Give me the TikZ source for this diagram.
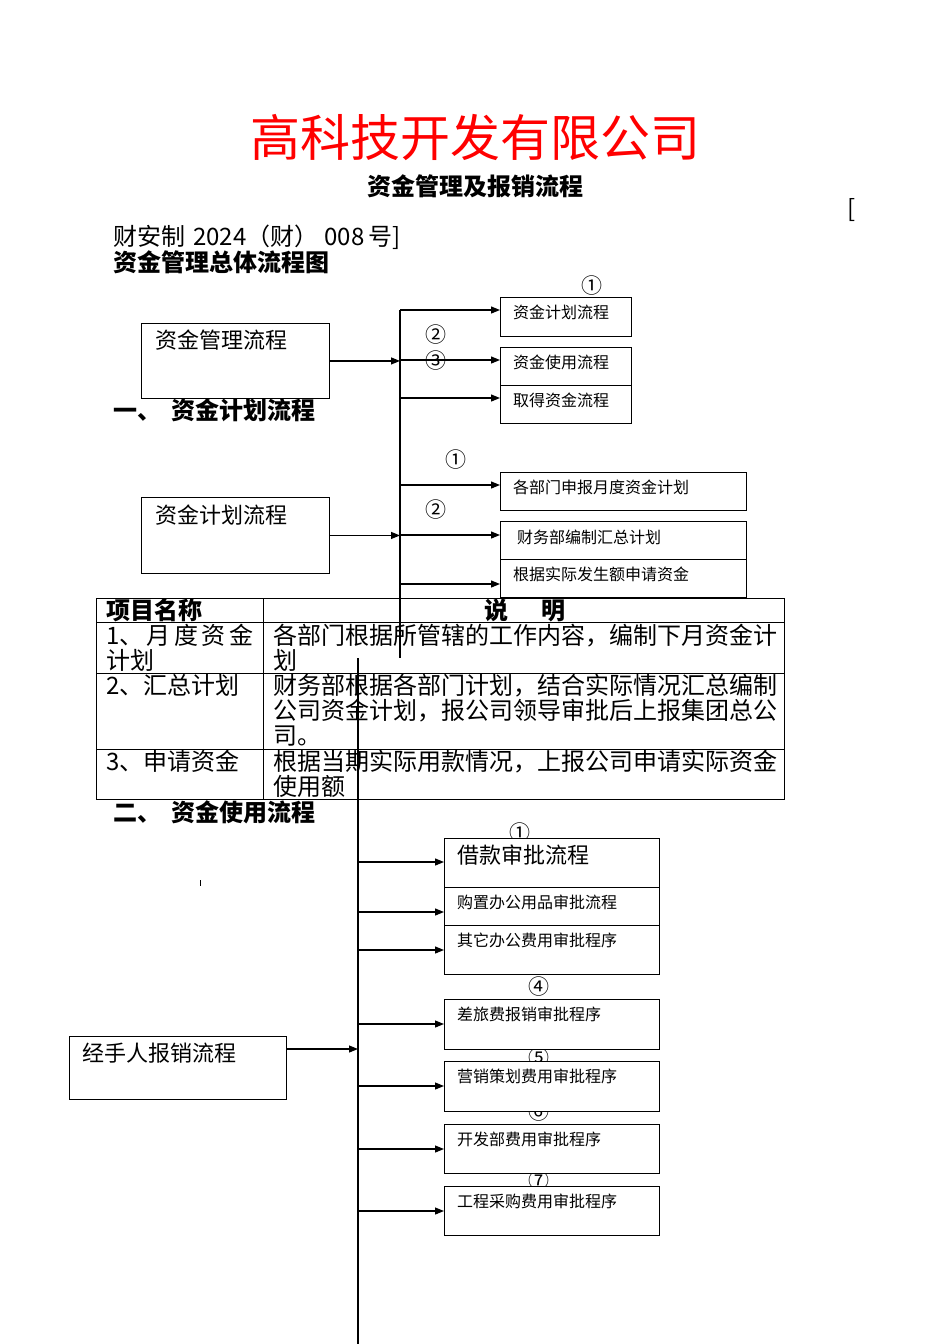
\documentclass[tikz,border=0pt]{standalone}
\usepackage{fontspec}
\setmainfont{Noto Sans CJK SC}
\usetikzlibrary{arrows.meta}

\begin{document}
\begin{tikzpicture}[x=1pt, y=-1pt, >={Triangle[length=9pt,width=7pt]},
    box/.style={draw, fill=white, line width=0.9pt, inner sep=0pt, anchor=north west},
    txt/.style={inner sep=0pt, anchor=west, font=\fontsize{16}{19}\selectfont},
    bigtxt/.style={inner sep=0pt, anchor=west, font=\fontsize{22}{26}\selectfont},
    num/.style={inner sep=0pt, font=\fontsize{21}{24}\selectfont},
    doc/.style={inner sep=0pt, anchor=west, font=\fontsize{24}{28}\selectfont},
    head/.style={inner sep=0pt, anchor=west, font=\fontsize{24}{28}\selectfont\bfseries},
    cell/.style={inner sep=0pt, anchor=north west, align=left, font=\fontsize{24}{25}\selectfont},
    arr/.style={->, line width=1.2pt},
    bus/.style={line width=1.2pt}]
    \useasboundingbox (0,0) rectangle (950,1344);

    % 标题
    \node[inner sep=0pt, text=red, font=\fontsize{50}{56}\selectfont] (title) at (475,137) {高科技开发有限公司};
    \node[inner sep=0pt, font=\fontsize{24}{28}\selectfont\bfseries] (subtitle) at (475,186) {资金管理及报销流程};
    \node[inner sep=0pt, font=\fontsize{24}{28}\selectfont] (brk) at (852,210) {[};
    \node[doc] (docno) at (113,237) {财安制\hspace{8pt}2024（财）\hspace{6pt}008\hspace{4pt}号]};
    \node[head] (overall) at (113,262) {资金管理总体流程图};

    % 资金管理总体流程
    \coordinate (bus1-top) at (400,310);
    \coordinate (bus1-end) at (400,658);
    \draw[bus] (bus1-top) -- (bus1-end);

    \node[num] (n1a) at (592,286) {①};
    \node[num] (n2a) at (436,335) {②};
    \node[num] (n3a) at (436,361) {③};

    \node[box, minimum width=188pt, minimum height=75pt] (mgmt) at (141,323) {};
    \node[bigtxt] (mgmt-t) at (155,340) {资金管理流程};

    \node[box, minimum width=131pt, minimum height=39pt] (plan) at (500,297) {};
    \node[txt] (plan-t) at (513,312) {资金计划流程};
    \node[box, minimum width=131pt, minimum height=38pt] (use) at (500,347) {};
    \node[txt] (use-t) at (513,362) {资金使用流程};
    \node[box, minimum width=131pt, minimum height=38pt] (obtain) at (500,385) {};
    \node[txt] (obtain-t) at (513,400) {取得资金流程};

    \draw[arr] (mgmt.east) -- (mgmt.east -| bus1-top);
    \foreach \y/\b in {310/plan, 360/use, 398/obtain} {
        \coordinate (q) at (400,\y);
        \draw[arr] (q) -- (q -| \b.west);
    }

    % 一、资金计划流程
    \node[head] (sec1) at (113,410) {一、\hspace{10pt}资金计划流程};

    \node[num] (n1b) at (456,460) {①};
    \node[num] (n2b) at (436,510) {②};

    \node[box, minimum width=188pt, minimum height=76pt] (plan2) at (141,497) {};
    \node[bigtxt] (plan2-t) at (155,515) {资金计划流程};

    \node[box, minimum width=246pt, minimum height=38pt] (dept) at (500,472) {};
    \node[txt] (dept-t) at (513,487) {各部门申报月度资金计划};
    \node[box, minimum width=246pt, minimum height=38pt] (fin) at (500,521) {};
    \node[txt] (fin-t) at (517,537) {财务部编制汇总计划};
    \node[box, minimum width=246pt, minimum height=38pt] (apply) at (500,559) {};
    \node[txt] (apply-t) at (513,574) {根据实际发生额申请资金};

    \draw[arr] (plan2.east) -- (plan2.east -| bus1-top);
    \foreach \y/\b in {485/dept, 535/fin, 584/apply} {
        \coordinate (q) at (400,\y);
        \draw[arr] (q) -- (q -| \b.west);
    }

    % 说明表
    \draw[line width=0.9pt] (96,598) rectangle (784,799);
    \foreach \y in {622,673,749}
        \draw[line width=0.9pt] (96,\y) -- (784,\y);
    \draw[line width=0.9pt] (263,598) -- (263,799);

    \node[head] (th1) at (106,610) {项目名称};
    \node[inner sep=0pt, font=\fontsize{24}{28}\selectfont\bfseries] (th2) at (525,610) {说\hspace{33pt}明};

    \node[cell] (r1a) at (106,624) {\makebox[147pt][s]{1、\hfill 月\hfill 度\hfill 资\hfill 金}\\计划};
    \node[cell] (r1b) at (273,624) {各部门根据所管辖的工作内容，编制下月资金计\\划};
    \node[cell] (r2a) at (106,674) {2、汇总计划};
    \node[cell] (r2b) at (273,674) {财务部根据各部门计划，结合实际情况汇总编制\\公司资金计划，报公司领导审批后上报集团总公\\司。};
    \node[cell] (r3a) at (106,750) {3、申请资金};
    \node[cell] (r3b) at (273,750) {根据当期实际用款情况，上报公司申请实际资金\\使用额};

    % 二、资金使用流程
    \node[head] (sec2) at (113,812) {二、\hspace{10pt}资金使用流程};
    \draw[line width=0.8pt] (200,880) -- (200,886);

    \coordinate (bus2-top) at (358,658);
    \coordinate (bus2-end) at (358,1344);
    \draw[bus] (bus2-top) -- (bus2-end);

    \node[num] (n1c) at (520,833) {①};
    \node[num] (n4c) at (539,987) {④};
    \node[num] (n5c) at (539,1058) {⑤};
    \node[num] (n6c) at (539,1112) {⑥};
    \node[num] (n7c) at (539,1181) {⑦};

    \node[box, minimum width=217pt, minimum height=63pt] (claim) at (69,1036) {};
    \node[bigtxt] (claim-t) at (82,1053) {经手人报销流程};
    \coordinate (claim-out) at (286,1049);
    \draw[arr] (claim-out) -- (claim-out -| bus2-top);

    \node[box, minimum width=215pt, minimum height=49pt] (loan) at (444,838) {};
    \node[bigtxt] (loan-t) at (457,855) {借款审批流程};
    \node[box, minimum width=215pt, minimum height=38pt] (office) at (444,887) {};
    \node[txt] (office-t) at (457,902) {购置办公用品审批流程};
    \node[box, minimum width=215pt, minimum height=49pt] (other) at (444,925) {};
    \node[txt] (other-t) at (457,940) {其它办公费用审批程序};
    \node[box, minimum width=215pt, minimum height=50pt] (travel) at (444,999) {};
    \node[txt] (travel-t) at (457,1014) {差旅费报销审批程序};
    \node[box, minimum width=215pt, minimum height=50pt] (market) at (444,1061) {};
    \node[txt] (market-t) at (457,1076) {营销策划费用审批程序};
    \node[box, minimum width=215pt, minimum height=49pt] (devel) at (444,1124) {};
    \node[txt] (devel-t) at (457,1139) {开发部费用审批程序};
    \node[box, minimum width=215pt, minimum height=49pt] (purch) at (444,1186) {};
    \node[txt] (purch-t) at (457,1201) {工程采购费用审批程序};

    \foreach \y/\b in {862/loan, 912/office, 950/other, 1024/travel, 1086/market, 1149/devel, 1211/purch} {
        \coordinate (q) at (358,\y);
        \draw[arr] (q) -- (q -| \b.west);
    }
\end{tikzpicture}
\end{document}
